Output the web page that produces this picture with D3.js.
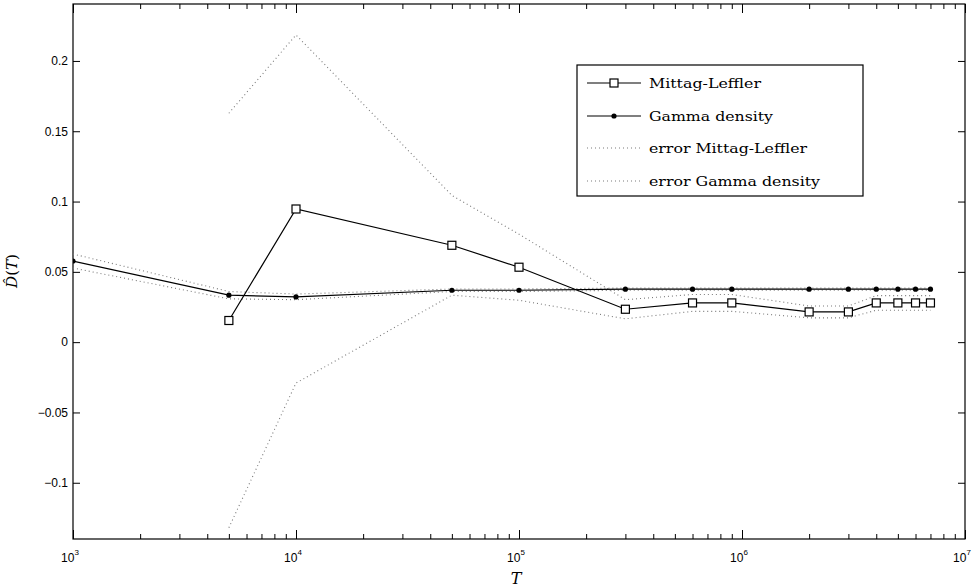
<!DOCTYPE html>
<html>
<head>
<meta charset="utf-8">
<script src="https://cdn.jsdelivr.net/npm/d3@7"></script>
<style>
  html, body { margin: 0; padding: 0; background: #fff; }
  svg { display: block; }
  .tick text { font-family: "Liberation Sans", Arial, sans-serif; }
</style>
</head>
<body>
<svg id="chart" width="976" height="588"></svg>
<script>
// Sampling times T
const tValues = [1e3, 5e3, 1e4, 5e4, 1e5, 3e5, 6e5, 9e5, 2e6, 3e6, 4e6, 5e6, 6e6, 7e6];

// Mittag-Leffler estimate (no value at T = 1e3)
const mittagLeffler = [null, 0.0154, 0.0947, 0.0689, 0.0533, 0.0234, 0.0279, 0.0279, 0.0215, 0.0215, 0.0279, 0.0279, 0.0279, 0.0279];
// Half-width of the Mittag-Leffler error band
const mittagLefflerErr = [null, 0.1474, 0.1238, 0.0355, 0.0235, 0.0068, 0.0060, 0.0060, 0.0042, 0.0042, 0.0052, 0.0052, 0.0052, 0.0052];

// Gamma density estimate
const gammaDensity = [0.0577, 0.0334, 0.0322, 0.0369, 0.0369, 0.0377, 0.0377, 0.0377, 0.0377, 0.0377, 0.0377, 0.0377, 0.0377, 0.0377];
// Half-width of the Gamma density error band
const gammaErr = [0.0050, 0.0026, 0.0020, 0.0009, 0.0009, 0.0008, 0.0008, 0.0008, 0.0008, 0.0008, 0.0008, 0.0008, 0.0008, 0.0008];

// Axis ticks
const yTicks = [-0.1, -0.05, 0, 0.05, 0.1, 0.15, 0.2];
const yTickLabels = ["\u22120.1", "\u22120.05", "0", "0.05", "0.1", "0.15", "0.2"];
const xMajorExponents = [3, 4, 5, 6, 7];

const legendLabels = ["Mittag-Leffler", "Gamma density", "error Mittag-Leffler", "error Gamma density"];

const svg = d3.select("#chart");
const L = 73, R = 965, T = 4, B = 539;

const x = d3.scaleLog().domain([1e3, 1e7]).range([L, R]);
const y = d3.scaleLinear().domain([-0.14, 0.2405]).range([B, T]);

svg.append("defs").append("clipPath").attr("id", "plotClip")
  .append("rect").attr("x", L).attr("y", T).attr("width", R - L).attr("height", B - T);

// log ticks: majors at decades, minors at 2..9 x decade
const majorVals = xMajorExponents.map(e => Math.pow(10, e));
const minorVals = [];
for (let e = 3; e < 7; e++) for (let m = 2; m <= 9; m++) minorVals.push(m * Math.pow(10, e));

function xAxisGroup(gen, ty) {
  const g = svg.append("g").attr("transform", `translate(0,${ty})`).call(gen);
  g.select(".domain").remove();
  g.selectAll(".tick line").attr("stroke", "#000").attr("stroke-width", 1);
  g.selectAll(".tick text").remove();
  return g;
}
// bottom ticks (inward)
xAxisGroup(d3.axisBottom(x).tickValues(majorVals).tickSize(-9), B);
xAxisGroup(d3.axisBottom(x).tickValues(minorVals).tickSize(-5), B);
// top ticks (inward)
xAxisGroup(d3.axisTop(x).tickValues(majorVals).tickSize(-9), T);
xAxisGroup(d3.axisTop(x).tickValues(minorVals).tickSize(-5), T);

// y ticks left and right
const yLeft = svg.append("g").attr("transform", `translate(${L},0)`)
  .call(d3.axisLeft(y).tickValues(yTicks).tickSize(-7).tickPadding(12)
    .tickFormat((d, i) => yTickLabels[i]));
yLeft.select(".domain").remove();
yLeft.selectAll(".tick line").attr("stroke", "#000");
yLeft.selectAll(".tick text").attr("font-size", 12).attr("fill", "#000").attr("x", -5);

const yRight = svg.append("g").attr("transform", `translate(${R},0)`)
  .call(d3.axisRight(y).tickValues(yTicks).tickSize(-7).tickFormat(""));
yRight.select(".domain").remove();
yRight.selectAll(".tick line").attr("stroke", "#000");

// x tick labels 10^k
const xLab = svg.append("g").attr("font-family", "Liberation Sans, Arial, sans-serif").attr("fill", "#000");
xMajorExponents.forEach(e => {
  const px = x(Math.pow(10, e));
  const t = xLab.append("text").attr("x", px - 3).attr("y", 562).attr("font-size", 12).attr("text-anchor", "middle");
  t.append("tspan").text("10");
  t.append("tspan").attr("font-size", 8).attr("dy", -7).text(String(e));
});

// frame
svg.append("rect").attr("x", L).attr("y", T).attr("width", R - L).attr("height", B - T)
  .attr("fill", "none").attr("stroke", "#000").attr("stroke-width", 1.2);

// axis titles
svg.append("text").attr("x", 516).attr("y", 584).attr("text-anchor", "middle")
  .attr("font-family", "DejaVu Serif, serif").attr("font-style", "italic").attr("font-size", 16).text("T");
const yt = svg.append("text").attr("transform", "translate(17,271) rotate(-90)").attr("text-anchor", "middle")
  .attr("font-family", "DejaVu Serif, serif").attr("font-size", 15);
yt.append("tspan").attr("font-style", "italic").text("D\u0302");
yt.append("tspan").text("(");
yt.append("tspan").attr("font-style", "italic").text("T");
yt.append("tspan").text(")");

// data
const rows = tValues.map((t, i) => ({
  t,
  ml: mittagLeffler[i], mlErr: mittagLefflerErr[i],
  g: gammaDensity[i], gErr: gammaErr[i]
}));
const mlRows = rows.filter(r => r.ml !== null);

const plot = svg.append("g").attr("clip-path", "url(#plotClip)");
const line = acc => d3.line().x(d => x(d.t)).y(d => y(acc(d)));

const dotted = { stroke: "#7a7a7a", width: 1.1, dash: "1,3" };
function drawDotted(data, acc) {
  plot.append("path").datum(data).attr("d", line(acc)).attr("fill", "none")
    .attr("stroke", dotted.stroke).attr("stroke-width", dotted.width).attr("stroke-dasharray", dotted.dash);
}
// error bands
drawDotted(mlRows, d => d.ml + d.mlErr);
drawDotted(mlRows, d => d.ml - d.mlErr);
drawDotted(rows, d => d.g + d.gErr);
drawDotted(rows, d => d.g - d.gErr);

// Gamma density line + dots
plot.append("path").datum(rows).attr("d", line(d => d.g)).attr("fill", "none")
  .attr("stroke", "#000").attr("stroke-width", 1.2);
plot.selectAll(".gdot").data(rows).join("circle").attr("class", "gdot")
  .attr("cx", d => x(d.t)).attr("cy", d => y(d.g)).attr("r", 2.6).attr("fill", "#000");

// Mittag-Leffler line + squares
plot.append("path").datum(mlRows).attr("d", line(d => d.ml)).attr("fill", "none")
  .attr("stroke", "#000").attr("stroke-width", 1.2);
const sq = 8;
plot.selectAll(".mlsq").data(mlRows).join("rect").attr("class", "mlsq")
  .attr("x", d => x(d.t) - sq / 2).attr("y", d => y(d.ml) - sq / 2)
  .attr("width", sq).attr("height", sq).attr("fill", "#fff").attr("stroke", "#000").attr("stroke-width", 1.2);

// legend
const lg = svg.append("g");
lg.append("rect").attr("x", 577).attr("y", 65).attr("width", 286).attr("height", 131)
  .attr("fill", "#fff").attr("stroke", "#000").attr("stroke-width", 1.2);
const rowY = [83, 116, 148, 181];
const textLen = [112, 124, 158, 171];
legendLabels.forEach((lab, i) => {
  const yy = rowY[i];
  const s = lg.append("line").attr("x1", 587).attr("x2", 641).attr("y1", yy).attr("y2", yy);
  if (i < 2) {
    s.attr("stroke", "#000").attr("stroke-width", 1.2);
  } else {
    s.attr("stroke", dotted.stroke).attr("stroke-width", dotted.width).attr("stroke-dasharray", dotted.dash);
  }
  if (i === 0) {
    lg.append("rect").attr("x", 614 - 4).attr("y", yy - 4).attr("width", 8).attr("height", 8)
      .attr("fill", "#fff").attr("stroke", "#000").attr("stroke-width", 1.2);
  } else if (i === 1) {
    lg.append("circle").attr("cx", 614).attr("cy", yy).attr("r", 2.6).attr("fill", "#000");
  }
  lg.append("text").attr("x", 649).attr("y", yy + 4.5)
    .attr("font-family", "DejaVu Serif, serif").attr("font-size", 13)
    .attr("textLength", textLen[i]).attr("lengthAdjust", "spacingAndGlyphs").text(lab);
});
</script>
</body>
</html>
